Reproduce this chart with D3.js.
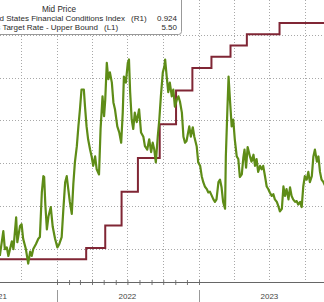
<!DOCTYPE html>
<html>
<head>
<meta charset="utf-8">
<script src="https://cdn.jsdelivr.net/npm/d3@7"></script>
<style>
  body { margin: 0; background: #fff; overflow: hidden; }
  svg { display: block; font-family: "Liberation Sans", Arial, sans-serif; }
</style>
</head>
<body>
<script>
// FCI (right axis, inverted)
const fciDates = [
  "2021-08-07","2021-08-16","2021-08-20","2021-08-25","2021-08-29","2021-09-07","2021-09-11","2021-09-18","2021-09-21","2021-09-28",
  "2021-10-02","2021-10-06","2021-10-13","2021-10-19","2021-10-24","2021-10-28","2021-11-01","2021-11-08","2021-11-14","2021-11-18",
  "2021-11-23","2021-11-27","2021-11-29","2021-12-02","2021-12-06","2021-12-10","2021-12-16","2021-12-21","2021-12-27","2022-01-02",
  "2022-01-07","2022-01-13","2022-01-17","2022-01-22","2022-01-26","2022-01-30","2022-02-03","2022-02-08","2022-02-12","2022-02-16",
  "2022-02-21","2022-02-25","2022-03-01","2022-03-05","2022-03-11","2022-03-14","2022-03-18","2022-03-22","2022-03-27","2022-03-31",
  "2022-04-04","2022-04-09","2022-04-13","2022-04-19","2022-04-23","2022-04-28","2022-05-02","2022-05-05","2022-05-09","2022-05-13",
  "2022-05-17","2022-05-22","2022-05-26","2022-05-30","2022-06-05","2022-06-10","2022-06-15","2022-06-19","2022-06-22","2022-06-27",
  "2022-07-02","2022-07-05","2022-07-08","2022-07-12","2022-07-16","2022-07-20","2022-07-25","2022-07-31","2022-08-05","2022-08-11",
  "2022-08-15","2022-08-21","2022-08-26","2022-08-31","2022-09-04","2022-09-08","2022-09-12","2022-09-17","2022-09-21","2022-09-25",
  "2022-09-30","2022-10-04","2022-10-06","2022-10-10","2022-10-14","2022-10-18","2022-10-23","2022-10-27","2022-10-31","2022-11-05",
  "2022-11-09","2022-11-13","2022-11-18","2022-11-22","2022-11-26","2022-11-30","2022-12-07","2022-12-11","2022-12-16","2022-12-20",
  "2022-12-26","2022-12-30","2023-01-04","2023-01-08","2023-01-12","2023-01-16","2023-01-21","2023-01-25","2023-01-29","2023-02-03",
  "2023-02-07","2023-02-11","2023-02-15","2023-02-20","2023-02-24","2023-02-28","2023-03-04","2023-03-09","2023-03-11","2023-03-15",
  "2023-03-18","2023-03-22","2023-03-26","2023-03-30","2023-04-03","2023-04-08","2023-04-12","2023-04-16","2023-04-21","2023-04-25",
  "2023-04-28","2023-05-02","2023-05-06","2023-05-12","2023-05-16","2023-05-21","2023-05-25","2023-05-29","2023-06-02","2023-06-07",
  "2023-06-11","2023-06-15","2023-06-20","2023-06-24","2023-06-28","2023-07-02","2023-07-07","2023-07-11","2023-07-15","2023-07-20",
  "2023-07-24","2023-07-28","2023-08-02","2023-08-06","2023-08-10","2023-08-14","2023-08-19","2023-08-23","2023-08-27","2023-08-31",
  "2023-09-05","2023-09-09","2023-09-13","2023-09-18","2023-09-22","2023-09-26","2023-09-30","2023-10-05","2023-10-09","2023-10-13",
  "2023-10-18","2023-10-22","2023-10-26","2023-10-31","2023-11-04","2023-11-08","2023-11-12","2023-11-17","2023-11-21"
];
const fciValues = [
  1.58,1.29,1.50,1.48,1.58,1.41,1.50,1.13,1.42,1.23,
  1.21,1.38,1.50,1.67,1.53,1.58,1.50,1.44,1.38,1.36,
  0.84,0.65,0.66,0.98,1.27,1.12,1.01,1.24,1.38,1.48,
  1.44,1.36,1.06,0.72,0.65,0.80,0.95,1.09,0.74,0.49,
  0.30,0.07,-0.13,-0.36,-0.36,-0.16,0.07,0.22,0.34,0.42,
  0.53,0.42,0.57,0.63,0.10,-0.28,-0.05,-0.24,-0.67,-0.48,
  -0.56,-0.44,-0.21,-0.13,0.07,0.14,0.26,-0.09,-0.51,-0.44,
  -0.67,-0.71,-0.33,-0.01,0.10,-0.09,0.02,-0.13,0.14,0.19,
  0.30,0.34,0.22,0.37,0.26,0.34,0.49,0.19,-0.01,-0.28,
  -0.56,-0.63,-0.71,-0.51,-0.33,-0.44,-0.28,-0.36,-0.16,-0.24,
  -0.28,-0.22,-0.09,0.19,0.26,0.24,0.07,0.19,0.08,0.19,
  0.30,0.49,0.53,0.65,0.72,0.77,0.80,0.84,0.83,0.88,
  0.92,0.95,0.92,0.72,0.69,0.78,0.95,1.03,0.42,-0.13,
  -0.51,-0.21,0.07,-0.01,0.22,0.42,0.45,0.66,0.63,0.43,
  0.34,0.55,0.31,0.42,0.48,0.40,0.53,0.45,0.60,0.53,
  0.57,0.53,0.66,0.77,0.80,0.84,0.88,0.86,0.92,0.95,
  1.00,1.06,1.03,0.77,0.88,0.80,0.92,0.78,0.88,0.92,
  0.95,0.94,0.98,0.95,1.01,0.77,0.65,0.69,0.60,0.72,
  0.65,0.42,0.34,0.48,0.42,0.60,0.69,0.72,0.76
];

// Fed target rate upper bound (left axis), step dates
const rateDates = ["2021-07-01","2022-03-17","2022-05-05","2022-06-16","2022-07-28","2022-09-22","2022-11-03","2022-12-15","2023-02-02","2023-03-23","2023-05-04","2023-07-27","2023-12-31"];
const rateValues = [0.25,0.50,1.00,1.75,2.50,3.25,4.00,4.50,4.75,5.00,5.25,5.50,5.50];

const legendTitle = "Mid Price";
const seriesNames = ["United States Financial Conditions Index", "Federal Funds Target Rate - Upper Bound"];
const seriesAxes = ["(R1)", "(L1)"];
const lastValues = ["0.924", "5.50"];
const yearLabels = ["2021", "2022", "2023"];
const rightTicks = [-1.0, -0.5, 0.0, 0.5, 1.0, 1.5];

const W = 324, H = 302;
const parse = d3.timeParse("%Y-%m-%d");
const fci = fciDates.map((d, i) => ({ date: parse(d), value: fciValues[i] }));
const rate = rateDates.map((d, i) => ({ date: parse(d), value: rateValues[i] }));

const svg = d3.select("body").append("svg").attr("width", W).attr("height", H);

const x = d3.scaleTime()
  .domain([new Date(2022, 0, 1), new Date(2023, 0, 1)])
  .range([57, 199]);
const yL = d3.scaleLinear().domain([0, 6]).range([270.5, 0.5]);
const yR = d3.scaleLinear().domain([-1, 1.5]).range([34.6, 249.1]); // inverted

const axisY = 282;

// grid
const grid = svg.append("g");
grid.selectAll(".hg")
  .data(rightTicks)
  .enter().append("line")
  .attr("x1", 0).attr("x2", W)
  .attr("y1", d => Math.round(yR(d)) + 0.5).attr("y2", d => Math.round(yR(d)) + 0.5)
  .attr("stroke", "#a8a8a8").attr("stroke-width", 1).attr("stroke-dasharray", "1,2");

const quarters = d3.timeMonth.every(3).range(new Date(2021, 6, 1), new Date(2024, 0, 1));
grid.selectAll(".vg")
  .data(quarters)
  .enter().append("line")
  .attr("x1", d => Math.round(x(d)) + 0.5).attr("x2", d => Math.round(x(d)) + 0.5)
  .attr("y1", 0).attr("y2", axisY)
  .attr("stroke", "#a8a8a8").attr("stroke-width", 1).attr("stroke-dasharray", "1,2");

// clip to plot area
svg.append("clipPath").attr("id", "plot")
  .append("rect").attr("x", -10).attr("y", 0).attr("width", W + 20).attr("height", axisY - 1);

const plot = svg.append("g").attr("clip-path", "url(#plot)");

plot.append("path")
  .datum(rate)
  .attr("fill", "none")
  .attr("stroke", "#802635")
  .attr("stroke-width", 2)
  .attr("d", d3.line().curve(d3.curveStepAfter).x(d => x(d.date)).y(d => yL(d.value)));

plot.append("path")
  .datum(fci)
  .attr("fill", "none")
  .attr("stroke", "#5e8c17")
  .attr("stroke-width", 2.2)
  .attr("stroke-linejoin", "round")
  .attr("d", d3.line().x(d => x(d.date)).y(d => yR(d.value)));

// x axis
const xAxis = d3.axisBottom(x)
  .ticks(d3.timeMonth.every(1))
  .tickSize(5)
  .tickFormat("");
const ax = svg.append("g").attr("transform", `translate(0,${axisY - 2})`).call(xAxis);
ax.select(".domain").remove();
ax.selectAll(".tick line").attr("stroke", "#777");
svg.append("line")
  .attr("x1", 0).attr("x2", W).attr("y1", axisY + 0.5).attr("y2", axisY + 0.5)
  .attr("stroke", "#666").attr("stroke-width", 1);

// year separators and labels
const years = [new Date(2022, 0, 1), new Date(2023, 0, 1)];
svg.selectAll(".ysep")
  .data(years)
  .enter().append("line")
  .attr("x1", d => Math.round(x(d)) + 0.5).attr("x2", d => Math.round(x(d)) + 0.5)
  .attr("y1", 290).attr("y2", H)
  .attr("stroke", "#999");

svg.selectAll(".ylab")
  .data(yearLabels)
  .enter().append("text")
  .attr("x", (d, i) => i === 0 ? 7 : x(new Date(+d, 6, 1)))
  .attr("y", 299)
  .attr("text-anchor", (d, i) => i === 0 ? "end" : "middle")
  .attr("font-size", "8px")
  .attr("fill", "#444")
  .text(d => d);

// legend
const lg = svg.append("g");
lg.append("rect")
  .attr("x", -6).attr("y", -6).attr("width", 187.5).attr("height", 40.5).attr("rx", 3)
  .attr("fill", "#fff").attr("stroke", "#999").attr("stroke-width", 1);
lg.append("text")
  .attr("x", 59).attr("y", 12).attr("text-anchor", "middle")
  .attr("font-size", "8.2px").attr("fill", "#2a2a2a")
  .text(legendTitle);
const nameEnds = [125, 98];
const rows = [20.5, 29.5];
seriesNames.forEach((name, i) => {
  lg.append("text").attr("x", nameEnds[i]).attr("y", rows[i]).attr("text-anchor", "end")
    .attr("font-size", "8px").attr("fill", "#2a2a2a").text(name);
  lg.append("text").attr("x", nameEnds[i] + 6).attr("y", rows[i])
    .attr("font-size", "8px").attr("fill", "#2a2a2a").text(seriesAxes[i]);
  lg.append("text").attr("x", 177).attr("y", rows[i]).attr("text-anchor", "end")
    .attr("font-size", "8px").attr("fill", "#2a2a2a").text(lastValues[i]);
});
</script>
</body>
</html>
